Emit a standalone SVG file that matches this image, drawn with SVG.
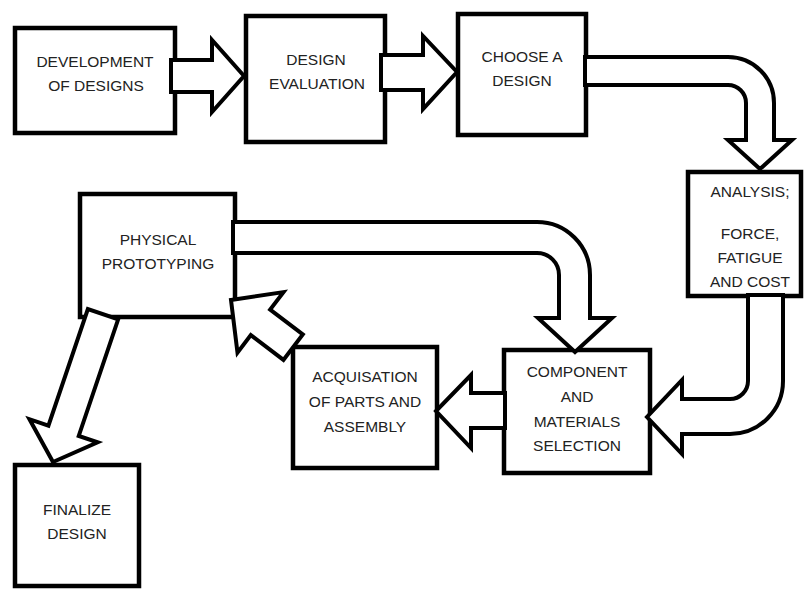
<svg xmlns="http://www.w3.org/2000/svg" width="804" height="591" viewBox="0 0 804 591">
<style>
.box{fill:#fff;stroke:#000;stroke-width:4.5}
.arr{fill:#fff;stroke:#000;stroke-width:4;stroke-linejoin:miter}
text{font-family:"Liberation Sans",Arial,sans-serif;font-size:15.5px;fill:#222;text-anchor:middle}
</style>
<rect width="804" height="591" fill="#fff"/>
<g id="nodes">
<g id="n-dev"><rect class="box" x="15" y="28" width="160" height="105"/><text x="95" y="67">DEVELOPMENT</text><text x="96" y="91">OF DESIGNS</text></g>
<g id="n-eval"><rect class="box" x="246" y="16" width="139" height="126"/><text x="316" y="65">DESIGN</text><text x="317" y="89">EVALUATION</text></g>
<g id="n-choose"><rect class="box" x="458" y="14" width="128" height="121"/><text x="522" y="62">CHOOSE A</text><text x="522" y="86">DESIGN</text></g>
<g id="n-analysis"><rect class="box" x="688" y="172" width="113" height="124"/><text x="750" y="197">ANALYSIS;</text><text x="750" y="239">FORCE,</text><text x="750" y="263">FATIGUE</text><text x="750" y="287">AND COST</text></g>
<g id="n-physical"><rect class="box" x="80" y="194" width="155" height="123"/><text x="158" y="245">PHYSICAL</text><text x="158" y="269">PROTOTYPING</text></g>
<g id="n-component"><rect class="box" x="504" y="350" width="146" height="123"/><text x="577" y="377">COMPONENT</text><text x="577" y="402">AND</text><text x="577" y="427">MATERIALS</text><text x="577" y="451">SELECTION</text></g>
<g id="n-acq"><rect class="box" x="293" y="347" width="144" height="121"/><text x="365" y="382">ACQUISATION</text><text x="365" y="407">OF PARTS AND</text><text x="365" y="432">ASSEMBLY</text></g>
<g id="n-final"><rect class="box" x="15" y="465" width="124" height="121"/><text x="77" y="515">FINALIZE</text><text x="77" y="539">DESIGN</text></g>
</g>
<g id="connectors">
<polygon class="arr" points="171,60 212,60 212,40 244,76 212,112 212,92 171,92"/>
<polygon class="arr" points="381,55 423,55 423,36 457,72 423,109 423,90 381,90"/>
<path class="arr" d="M585,57 H728 A46,46 0 0 1 774,103 V140 H792 L760,169 L728,140 H746 V103 A18,18 0 0 0 728,85 H585 Z"/>
<path class="arr" d="M748,295 V381 A18,18 0 0 1 730,399 H682 V380 L647,417 L682,454 V434 H730 A53,53 0 0 0 783,381 V295 Z"/>
<path class="arr" d="M233,222 H537 A53,53 0 0 1 590,275 V318 H612 L575,352 L538,318 H559 V275 A22,22 0 0 0 537,253 H233 Z"/>
<polygon class="arr" points="505,393 471,393 471,375 436,411 471,448 471,428 505,428"/>
<polygon class="arr" transform="translate(231,300) rotate(37.2)" points="0,0 37,-38 37,-16 78,-16 78,16 37,16 37,38"/>
<polygon class="arr" transform="translate(53,462) rotate(-71.3)" points="0,0 33,-36 33,-16 156,-16 156,16 33,16 33,36"/>
</g>
</svg>
